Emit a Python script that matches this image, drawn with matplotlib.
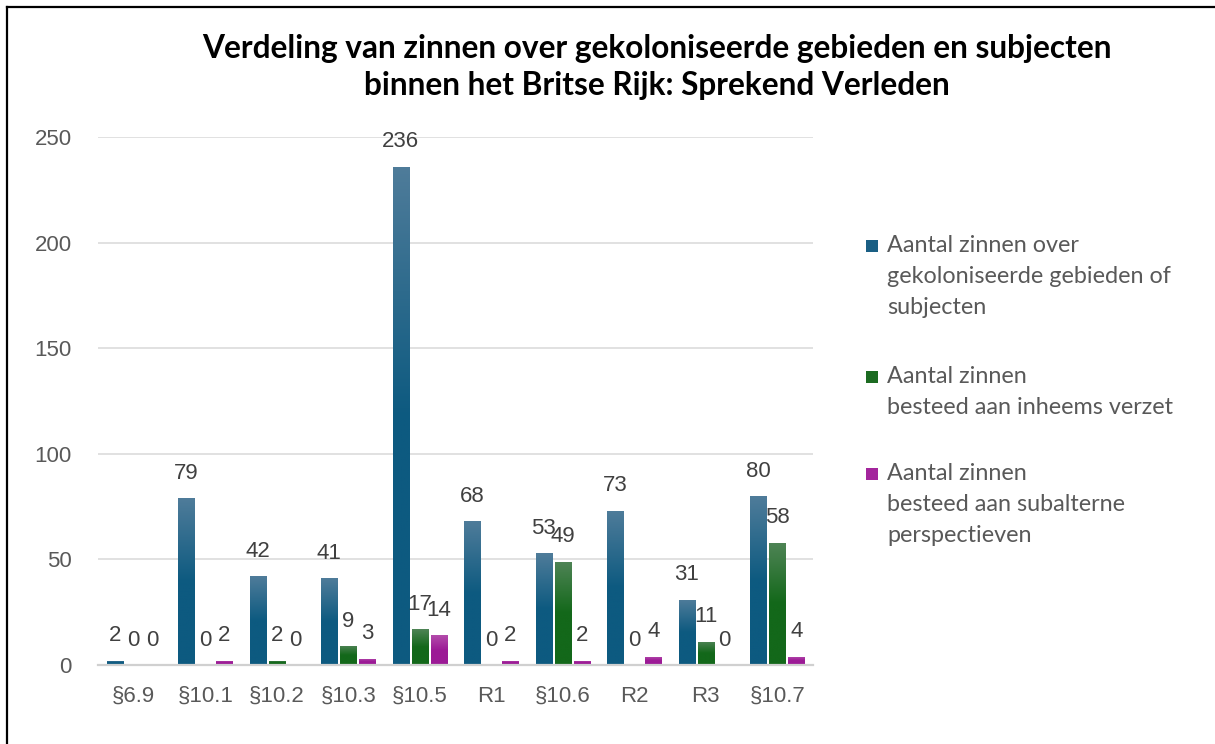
import numpy as np
import matplotlib
matplotlib.use("Agg")
import matplotlib.pyplot as plt
from matplotlib.colors import LinearSegmentedColormap
from matplotlib.lines import Line2D
from matplotlib.patches import Rectangle

# ---------------- data ----------------
categories = ["§6.9", "§10.1", "§10.2", "§10.3", "§10.5", "R1", "§10.6", "R2", "R3", "§10.7"]
koloniale = [2, 79, 42, 41, 236, 68, 53, 73, 31, 80]
verzet = [0, 0, 2, 9, 17, 0, 49, 0, 11, 58]
subaltern = [0, 2, 0, 3, 14, 2, 2, 4, 0, 4]
series_labels = [
    "Aantal zinnen over\ngekoloniseerde gebieden of\nsubjecten",
    "Aantal zinnen\nbesteed aan inheems verzet",
    "Aantal zinnen\nbesteed aan subalterne\nperspectieven",
]
yticks = [0, 50, 100, 150, 200, 250]
title_lines = ["Verdeling van zinnen over gekoloniseerde gebieden en subjecten",
               "binnen het Britse Rijk: Sprekend Verleden"]

# ---------------- style ----------------
W, H = 1215, 744
fig = plt.figure(figsize=(W / 100, H / 100), dpi=100)
fig.patch.set_facecolor("white")

ax = fig.add_axes([98 / W, 79 / H, (813 - 98) / W, 528 / H])

colors_bottom = ["#0d5a80", "#13681a", "#9c1a96"]
colors_top = ["#4f7c9a", "#4f8456", "#b34cab"]
legend_colors = ["#1a5f84", "#1c6b21", "#a3259c"]

x = np.arange(len(categories))
offsets = [-0.265, 0.0, 0.265]
width = 0.225
series = [koloniale, verzet, subaltern]

grad = np.linspace(0, 1, 256).reshape(-1, 1)
for s, (vals, off) in enumerate(zip(series, offsets)):
    bars = ax.bar(x + off, vals, width, color=colors_bottom[s], zorder=3, linewidth=0)
    cmap = LinearSegmentedColormap.from_list(f"g{s}", [colors_bottom[s], colors_bottom[s], colors_top[s]])
    for b, v in zip(bars, vals):
        if v > 0:
            im = ax.imshow(grad, extent=[b.get_x(), b.get_x() + b.get_width(), 0, v],
                           origin="lower", cmap=cmap, aspect="auto", zorder=3.5)
            im.set_clip_path(b)
        ax.annotate(str(v), (b.get_x() + b.get_width() / 2, v), xytext=(0, 14),
                    textcoords="offset points", ha="center", va="baseline",
                    fontsize=16, color="#404040", family="Liberation Sans", zorder=5)

ax.set_xlim(-0.5, len(categories) - 0.5)
ax.set_ylim(0, 250)
ax.set_yticks(yticks)
ax.set_xticks(x)
ax.set_xticklabels(categories)
ax.grid(axis="y", color="#d9d9d9", linewidth=1.1, zorder=0)
ax.set_axisbelow(True)
for sp in ["top", "right", "left"]:
    ax.spines[sp].set_visible(False)
ax.spines["bottom"].set_color("#d0d0d0")
ax.spines["bottom"].set_linewidth(1.6)
ax.spines["bottom"].set_zorder(4)
ax.tick_params(axis="both", length=0, labelsize=16, labelcolor="#595959")
ax.tick_params(axis="y", pad=19)
ax.tick_params(axis="x", pad=15)
for lab in ax.get_xticklabels() + ax.get_yticklabels():
    lab.set_family("Liberation Sans")

# title
fig.text(657 / W, 1 - 58 / H, title_lines[0], ha="center", va="baseline",
         fontsize=22.8, fontweight="bold", family="Lato", color="black")
fig.text(657 / W, 1 - 95 / H, title_lines[1], ha="center", va="baseline",
         fontsize=22.8, fontweight="bold", family="Lato", color="black")

# legend (manual)
first_baselines = [252, 383, 480]
line_gap = 31
for lab, col, yb in zip(series_labels, legend_colors, first_baselines):
    fig.patches.append(Rectangle((866 / W, 1 - (yb) / H), 12 / W, 12 / H,
                                 transform=fig.transFigure, facecolor=col, edgecolor="none"))
    for i, line in enumerate(lab.split("\n")):
        fig.text(887 / W, 1 - (yb + i * line_gap) / H, line, ha="left", va="baseline",
                 fontsize=16.8, family="Lato", color="#595959")

# figure border (top and left)
fig.add_artist(Line2D([7 / W, 1], [1 - 7 / H, 1 - 7 / H], transform=fig.transFigure,
                      color="black", linewidth=1.6))
fig.add_artist(Line2D([7 / W, 7 / W], [0, 1 - 7 / H], transform=fig.transFigure,
                      color="black", linewidth=1.6))

fig.savefig("out.png", dpi=100)
